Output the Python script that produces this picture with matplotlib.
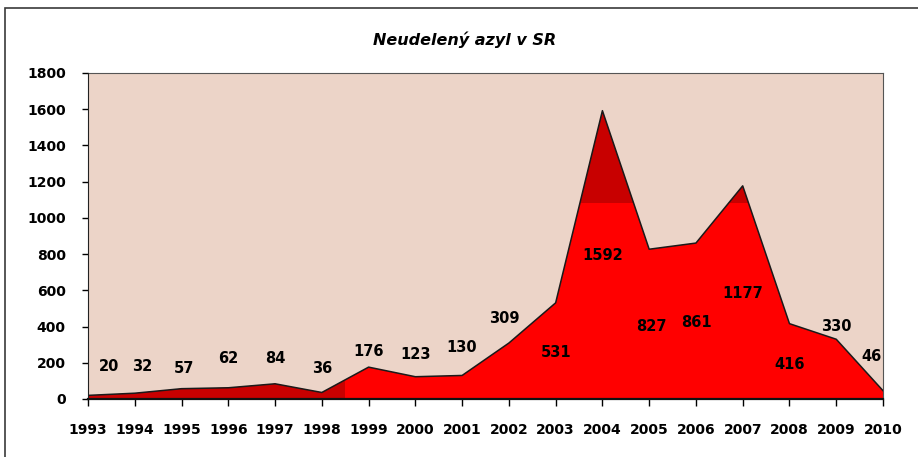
import matplotlib
matplotlib.use("Agg")
import matplotlib.pyplot as plt
from matplotlib.patches import Rectangle, Polygon

# Data
years = list(range(1993, 2011))
values = [20, 32, 57, 62, 84, 36, 176, 123, 130, 309, 531, 1592, 827, 861, 1177, 416, 330, 46]

# where the value labels sit (data coords)
label_x = [1993.45, 1994.15, 1995.05, 1996.0, 1997.0, 1998.0, 1999.0, 2000.0, 2001.0,
           2001.9, 2003.0, 2004.0, 2005.05, 2006.0, 2007.0, 2008.0, 2009.0, 2009.75]
label_y = [177, 177, 171, 221, 221, 171, 260, 248, 287, 447, 254, 790, 403, 425, 580, 193, 403, 232]

plt.rcParams['font.family'] = ['DejaVu Sans']
plt.rcParams['font.weight'] = 'bold'

fig = plt.figure(figsize=(9.18, 4.57), dpi=100)
fig.patch.set_facecolor('white')

# outer chart frame
fig.patches.append(Rectangle((5/918, -0.05), 1.2, 1 - 8/457 + 0.05, transform=fig.transFigure,
                             fill=False, edgecolor='#3a3a3a', linewidth=1.2))

ax = fig.add_axes([88/918, 1 - 399/457, 795/918, 326/457])
ax.set_facecolor('#ecd4c8')

# main area
ax.fill_between(years, values, 0, facecolor='#ff0000', edgecolor='none', zorder=2)
clip = Polygon(list(zip(years, values)) + [(2010, 0), (1993, 0)], closed=True,
               transform=ax.transData, facecolor='none', edgecolor='none')
ax.add_patch(clip)
# darker parts of the fill
dark1 = Rectangle((1993, 0), 5.5, 1800, facecolor='#c80000', edgecolor='none', zorder=3)
dark2 = Rectangle((1993, 1084), 17, 800, facecolor='#c80000', edgecolor='none', zorder=3)
for r in (dark1, dark2):
    ax.add_patch(r)
    r.set_clip_path(clip)
ax.plot(years, values, color='#1a1a1a', linewidth=1.1, zorder=4)

for x, y, v in zip(label_x, label_y, values):
    ax.text(x, y, str(v), ha='center', va='center', fontsize=10.5, fontweight='bold',
            color='black', zorder=5)

ax.set_xlim(1993, 2010)
ax.set_ylim(0, 1800)
ax.set_xticks(years)
ax.set_yticks(range(0, 1801, 200))
ax.tick_params(axis='x', direction='out', length=5, width=1, pad=12, labelsize=10)
ax.tick_params(axis='y', direction='out', length=4, width=1, pad=12, labelsize=10)
for lab in ax.get_xticklabels() + ax.get_yticklabels():
    lab.set_fontweight('bold')

ax.spines['left'].set_color('#222222')
ax.spines['bottom'].set_color('#111111')
ax.spines['bottom'].set_linewidth(1.6)
ax.spines['top'].set_color('#555555')
ax.spines['right'].set_color('#555555')
ax.spines['left'].set_zorder(6)
ax.spines['bottom'].set_zorder(6)

fig.text(465/918, 1 - 40/457, 'Neudelený azyl v SR', ha='center', va='center',
         fontsize=11.5, fontweight='bold', fontstyle='italic')

fig.savefig('out.png', dpi=100)
